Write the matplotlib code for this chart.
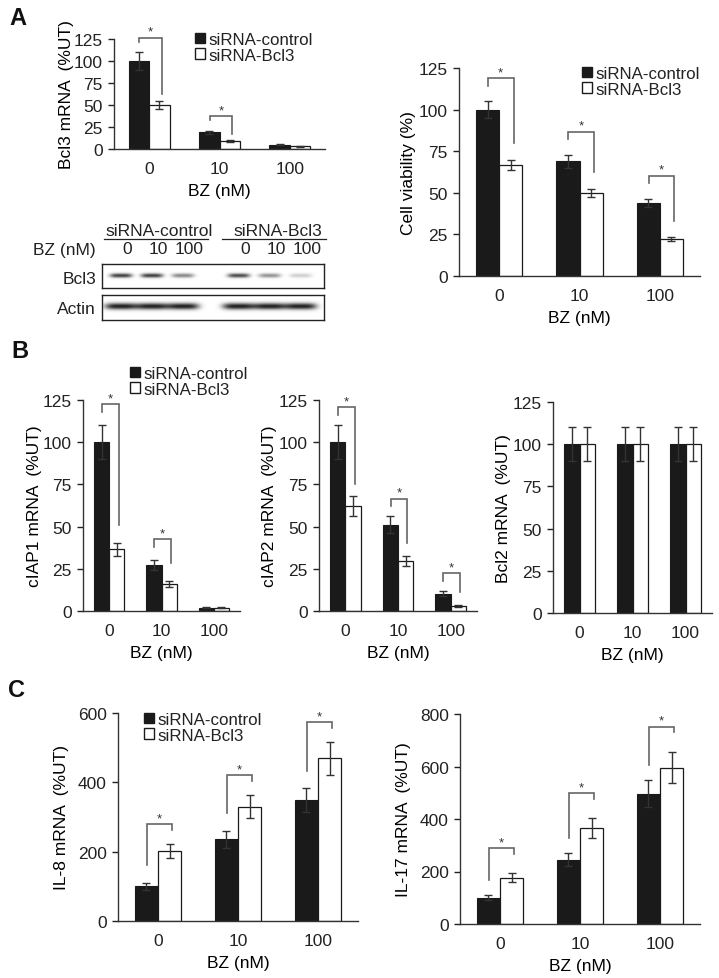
import matplotlib
matplotlib.use("Agg")
import matplotlib.pyplot as plt
import matplotlib.transforms as mtransforms
import numpy as np
from matplotlib.patches import Patch
from matplotlib.lines import Line2D

plt.rcParams['font.family'] = ['Liberation Sans', 'DejaVu Sans']
plt.rcParams['font.size'] = 12.5
plt.rcParams['text.color'] = '#222222'

W, H = 719, 979

doses = ['0', '10', '100']
groups = ['siRNA-control', 'siRNA-Bcl3']

# A - Bcl3 mRNA
bcl3_ctrl = [100, 19, 5]
bcl3_ctrl_err = [10, 2, 0.8]
bcl3_si = [50, 9, 3]
bcl3_si_err = [5, 1, 0.5]
bcl3_sig = [True, True, False]

# A - cell viability
via_ctrl = [100, 69, 44]
via_ctrl_err = [5, 4, 2.5]
via_si = [67, 50, 22]
via_si_err = [3, 2.5, 1.2]
via_sig = [True, True, True]

# A - western blot band intensities (0 10 100 | 0 10 100)
blot_bcl3 = [0.8, 0.8, 0.5, 0.75, 0.45, 0.2]
blot_actin = [0.92, 0.92, 0.92, 0.92, 0.92, 0.92]

# B
ciap1_ctrl = [100, 27, 2]
ciap1_ctrl_err = [10, 3, 0.3]
ciap1_si = [36.5, 16, 2]
ciap1_si_err = [3.7, 1.7, 0.3]
ciap1_sig = [True, True, False]

ciap2_ctrl = [100, 51, 10.3]
ciap2_ctrl_err = [10, 5, 1.3]
ciap2_si = [62, 29.5, 3]
ciap2_si_err = [6, 3, 0.5]
ciap2_sig = [True, True, True]

bcl2_ctrl = [100, 100, 100]
bcl2_ctrl_err = [10, 10, 10]
bcl2_si = [100, 100, 100]
bcl2_si_err = [10, 10, 10]
bcl2_sig = [False, False, False]

# C
il8_ctrl = [100, 236, 349]
il8_ctrl_err = [10, 24, 34]
il8_si = [202, 330, 469]
il8_si_err = [20, 33, 47]
il8_sig = [True, True, True]

il17_ctrl = [100, 245, 497]
il17_ctrl_err = [10, 25, 50]
il17_si = [176, 366, 596]
il17_si_err = [17, 37, 60]
il17_sig = [True, True, True]

fig = plt.figure(figsize=(W / 100, H / 100), dpi=100)
fig.patch.set_facecolor('white')


def add_ax(l, t, r, b):
    return fig.add_axes([l / W, 1 - b / H, (r - l) / W, (b - t) / H])


def fx(x):
    return x / W


def fy(y):
    return 1 - y / H


def bar_panel(box, ctrl, ctrl_err, si, si_err, sig, ymax, yticks, ylabel, ylab_x,
              style='A', gtop=0.1, gleg=0.07):
    ax = add_ax(*box)
    x = np.arange(len(doses))
    w = 0.29
    ax.bar(x - w / 2, ctrl, w, color='#1a1a1a', edgecolor='#1a1a1a', lw=0.8, zorder=2)
    ax.bar(x + w / 2, si, w, color='white', edgecolor='#1a1a1a', lw=0.9, zorder=2)
    ax.errorbar(x - w / 2, ctrl, yerr=ctrl_err, fmt='none', ecolor='#333333',
                elinewidth=1, capsize=3, capthick=1, zorder=3)
    ax.errorbar(x + w / 2, si, yerr=si_err, fmt='none', ecolor='#333333',
                elinewidth=1, capsize=3, capthick=1, zorder=3)
    for i in range(len(doses)):
        if not sig[i]:
            continue
        ct = ctrl[i] + ctrl_err[i]
        st = si[i] + si_err[i]
        top = max(ct, st) + gtop * ymax
        xl, xr = i - 0.14, i + 0.18
        if style == 'A':
            yl = top - 0.035 * ymax
            yr = st + gleg * ymax
        else:
            yl = ct + gleg * ymax
            yr = top - 0.028 * ymax
        ax.plot([xl, xl, xr, xr], [yl, top, top, yr], color='#666666', lw=1.2,
                clip_on=False, zorder=4, solid_joinstyle='miter')
        ax.text((xl + xr) / 2, top, '*', ha='center', va='bottom', fontsize=9.5,
                color='#333333', clip_on=False)
    ax.set_xlim(-0.5, 2.5)
    ax.set_ylim(0, ymax)
    ax.set_xticks(x)
    ax.set_xticklabels(doses)
    ax.set_yticks(yticks)
    for s in ['top', 'right']:
        ax.spines[s].set_visible(False)
    for s in ['left', 'bottom']:
        ax.spines[s].set_color('#333333')
        ax.spines[s].set_linewidth(1.0)
    ax.tick_params(axis='x', length=0, pad=8.5, colors='#222222')
    ax.tick_params(axis='y', length=4, width=1, pad=4, colors='#222222')
    ax.set_ylabel(ylabel)
    ax.yaxis.set_label_coords(fx(ylab_x + 9), fy((box[1] + box[3]) / 2),
                              transform=fig.transFigure)
    ax.set_xlabel('BZ (nM)')
    ax.xaxis.set_label_coords(fx((box[0] + box[2]) / 2), fy(box[3] + 34),
                              transform=fig.transFigure)
    return ax


def legend(ax, x, y):
    handles = [Patch(facecolor='#1a1a1a', edgecolor='#1a1a1a'),
               Patch(facecolor='white', edgecolor='#1a1a1a')]
    ax.legend(handles, groups, loc='upper left', bbox_to_anchor=(fx(x), fy(y)),
              bbox_transform=fig.transFigure, frameon=False, handlelength=0.6,
              handleheight=0.6, handletextpad=0.2, labelspacing=0.05,
              borderpad=0, borderaxespad=0, fontsize=12.2)


# ---- A
axA1 = bar_panel((114, 40, 325, 150), bcl3_ctrl, bcl3_ctrl_err, bcl3_si, bcl3_si_err,
                 bcl3_sig, 125, [0, 25, 50, 75, 100, 125], 'Bcl3 mRNA  (%UT)', 65,
                 'A', gtop=0.13, gleg=0.06)
legend(axA1, 195, 33)

axA2 = bar_panel((459, 69, 700, 277), via_ctrl, via_ctrl_err, via_si, via_si_err,
                 via_sig, 125, [0, 25, 50, 75, 100, 125], 'Cell viability (%)', 407,
                 'A', gtop=0.11, gleg=0.08)
legend(axA2, 582, 67)

# western blot
lane_pos = np.array([0, 1, 2, 3.8, 4.8, 5.8])
x0, x1 = -0.61, 6.55


def blot(box, intens, half_w, yc, half_h):
    ax = add_ax(*box)
    xs = np.linspace(x0, x1, 500)
    ys = np.linspace(0, 1, 80)
    X, Y = np.meshgrid(xs, ys)
    img = np.zeros_like(X)
    for p, v in zip(lane_pos, intens):
        img += v * np.exp(-((X - p) / half_w) ** 4) * np.exp(-((Y - yc) / half_h) ** 2)
    ax.imshow(np.clip(img, 0, 1), cmap='gray_r', vmin=0, vmax=1.05,
              extent=(x0, x1, 1, 0), aspect='auto', interpolation='bilinear')
    ax.set_xlim(x0, x1)
    ax.set_ylim(1, 0)
    ax.set_xticks([])
    ax.set_yticks([])
    for s in ax.spines.values():
        s.set_linewidth(1.0)
        s.set_color('#222222')
    return ax


axB = blot((102, 265, 324, 289), blot_bcl3, 0.36, 0.48, 0.09)
axAc = blot((102, 296, 324, 321), blot_actin, 0.52, 0.45, 0.13)

tr = mtransforms.blended_transform_factory(axB.transData, fig.transFigure)
for p, d in zip(lane_pos, doses * 2):
    fig.text(p + 0.2, fy(250), d, transform=tr, ha='center', va='center')
for lanes, g in [(lane_pos[:3], groups[0]), (lane_pos[3:], groups[1])]:
    xc = lanes.mean() + 0.25
    fig.text(xc, fy(231), g, transform=tr, ha='center', va='center')
    xl = lanes[0] - 0.55
    xr = lanes[-1] + 0.8
    fig.add_artist(Line2D([xl, xr], [fy(240), fy(240)], transform=tr,
                          color='#222222', lw=0.9))
fig.text(fx(96), fy(250), 'BZ (nM)', ha='right', va='center')
fig.text(fx(96), fy(280), 'Bcl3', ha='right', va='center')
fig.text(fx(96), fy(309), 'Actin', ha='right', va='center')

# ---- B
axB1 = bar_panel((83, 401, 240, 612), ciap1_ctrl, ciap1_ctrl_err, ciap1_si, ciap1_si_err,
                 ciap1_sig, 125, [0, 25, 50, 75, 100, 125], 'cIAP1 mRNA  (%UT)', 33,
                 'A', gtop=0.1, gleg=0.085)
legend(axB1, 130, 367)

bar_panel((319, 401, 477, 612), ciap2_ctrl, ciap2_ctrl_err, ciap2_si, ciap2_si_err,
          ciap2_sig, 125, [0, 25, 50, 75, 100, 125], 'cIAP2 mRNA  (%UT)', 268,
          'A', gtop=0.085, gleg=0.06)

bar_panel((553, 403, 712, 614), bcl2_ctrl, bcl2_ctrl_err, bcl2_si, bcl2_si_err,
          bcl2_sig, 125, [0, 25, 50, 75, 100, 125], 'Bcl2 mRNA  (%UT)', 502)

# ---- C
axC1 = bar_panel((118, 714, 358, 922), il8_ctrl, il8_ctrl_err, il8_si, il8_si_err,
                 il8_sig, 600, [0, 200, 400, 600], 'IL-8 mRNA  (%UT)', 60,
                 'C', gtop=0.095, gleg=0.085)
legend(axC1, 144, 713)

bar_panel((460, 715, 700, 925), il17_ctrl, il17_ctrl_err, il17_si, il17_si_err,
          il17_sig, 800, [0, 200, 400, 600, 800], 'IL-17 mRNA  (%UT)', 402,
          'C', gtop=0.12, gleg=0.072)

# panel letters
fig.text(fx(9), fy(25), 'A', fontsize=17, fontweight='bold', color='#111111')
fig.text(fx(11), fy(358), 'B', fontsize=17, fontweight='bold', color='#111111')
fig.text(fx(8), fy(697), 'C', fontsize=17, fontweight='bold', color='#111111')

fig.savefig('out.png', dpi=100)
